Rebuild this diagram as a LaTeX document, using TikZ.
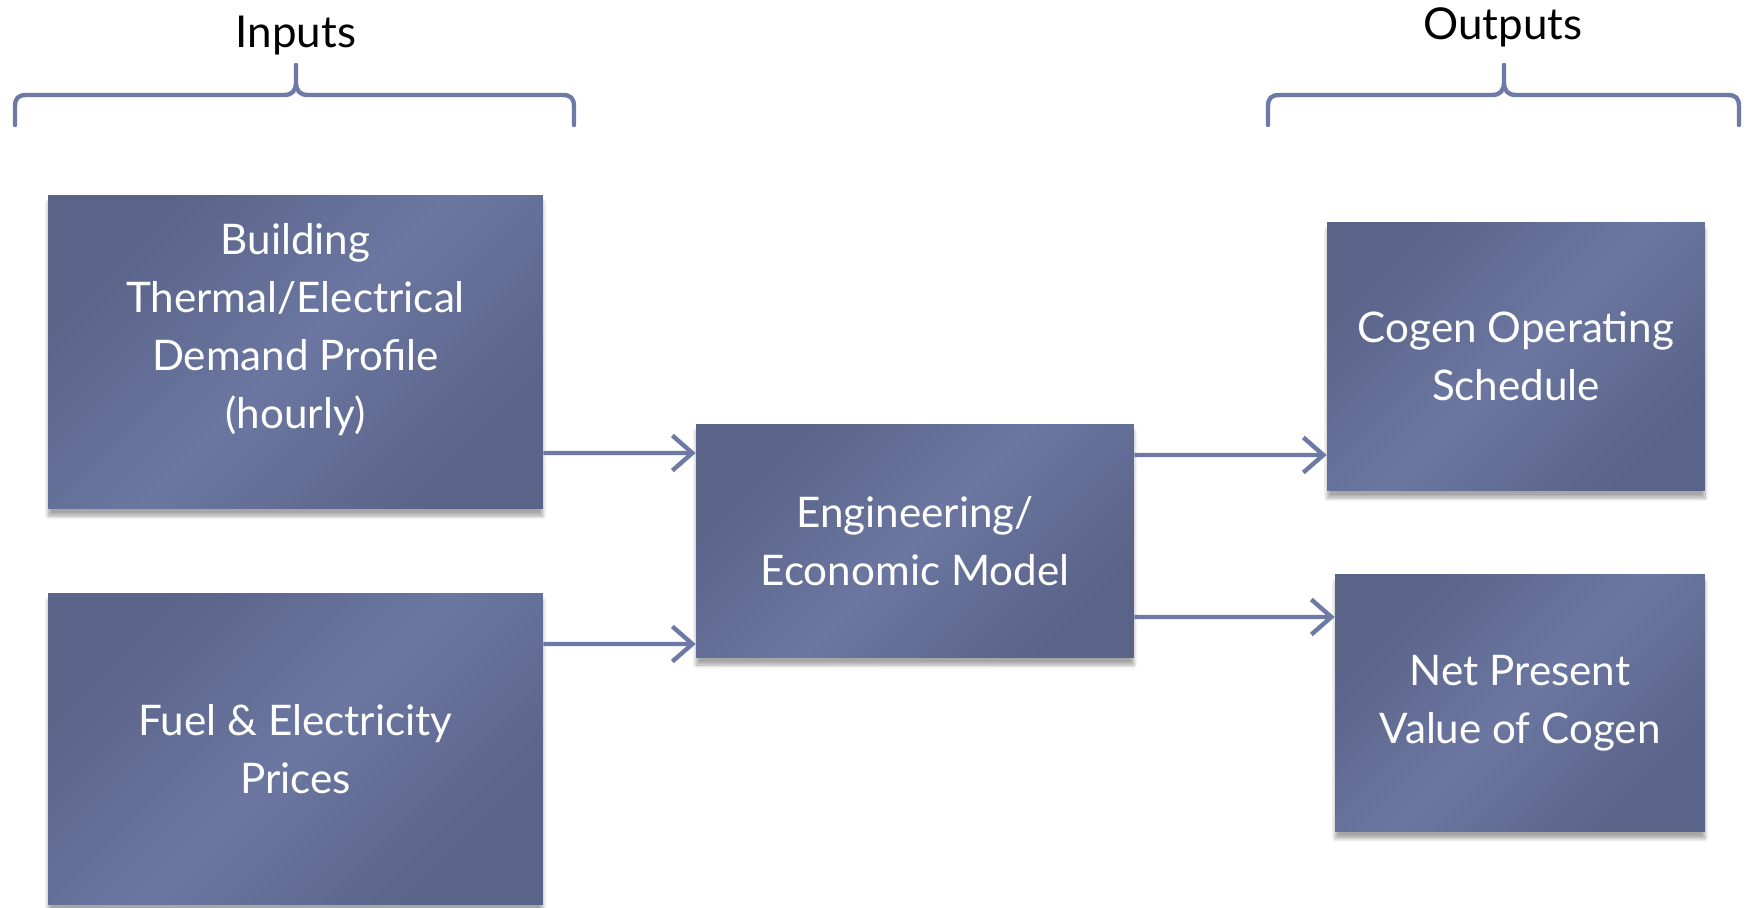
\documentclass[tikz,border=0pt]{standalone}
\usepackage{fontspec}
\setmainfont{Lato}
\usetikzlibrary{arrows.meta, shadows.blur}

\definecolor{boxdark}{HTML}{5A6388}
\definecolor{boxlight}{HTML}{6B77A1}
\definecolor{linkblue}{HTML}{6E79A6}

\tikzset{
  stagetext/.style={text=white, align=center, font=\fontsize{24}{33}\selectfont},
  stage/.style={stagetext, draw=none, top color=boxdark, bottom color=boxdark,
    middle color=boxlight, shading angle=45,
    blur shadow={shadow xshift=0pt, shadow yshift=-4pt, shadow opacity=35, shadow blur steps=6}},
  link/.style={linkblue, line width=2.5pt, -{Straight Barb[length=4mm, width=7mm, line width=2.5pt]}},
  bracket/.style={linkblue, line width=2.5pt, line cap=round, line join=round},
}

\begin{document}
\begin{tikzpicture}[x=0.02cm, y=-0.02cm]
    \useasboundingbox (0,0) rectangle (1750,908);

    % headings over the two groups
    \node[font=\fontsize{25}{30}\selectfont] (inputs) at (296,36) {Inputs};
    \node[font=\fontsize{25}{30}\selectfont] (outputs) at (1503,27) {Outputs};

    % curly brackets under the headings
    \foreach \l/\m/\r in {15/296/574, 1268/1504/1739} {
      \draw[bracket] (\l,125) -- (\l,107) .. controls (\l,98) and (\l+3,95) .. (\l+12,95)
        -- (\m-12,95) .. controls (\m-4,95) and (\m,91) .. (\m,82) -- (\m,65)
        -- (\m,82) .. controls (\m,91) and (\m+4,95) .. (\m+12,95)
        -- (\r-12,95) .. controls (\r-3,95) and (\r,98) .. (\r,107) -- (\r,125);
    }

    % input boxes
    \node[stage, minimum width=9.9cm, minimum height=6.28cm] (demand) at (295.5,352) {};
    \node[stagetext] (demandtext) at (295.5,330) {Building\\Thermal/Electrical\\Demand Profile\\(hourly)};
    \node[stage, minimum width=9.9cm, minimum height=6.24cm] (prices) at (295.5,749)
      {Fuel \& Electricity\\Prices};

    % the model in the middle
    \node[stage, minimum width=8.76cm, minimum height=4.68cm] (model) at (915,541)
      {Engineering/\\Economic Model};

    % output boxes
    \node[stage, minimum width=7.56cm, minimum height=5.38cm] (schedule) at (1516,356.5)
      {Cogen Operating\\Schedule};
    \node[stage, minimum width=7.4cm, minimum height=5.14cm] (npv) at (1520,703)
      {Net Present\\Value of Cogen};

    % arrows into and out of the model
    \draw[link] ([yshift=-2.02cm]demand.east) -- ([yshift=1.76cm]model.west);
    \draw[link] ([yshift=2.1cm]prices.east) -- ([yshift=-2.06cm]model.west);
    \draw[link] ([yshift=1.72cm]model.east) -- ([yshift=-1.97cm]schedule.west);
    \draw[link] ([yshift=-1.52cm]model.east) -- ([yshift=1.72cm]npv.west);

\end{tikzpicture}
\end{document}
